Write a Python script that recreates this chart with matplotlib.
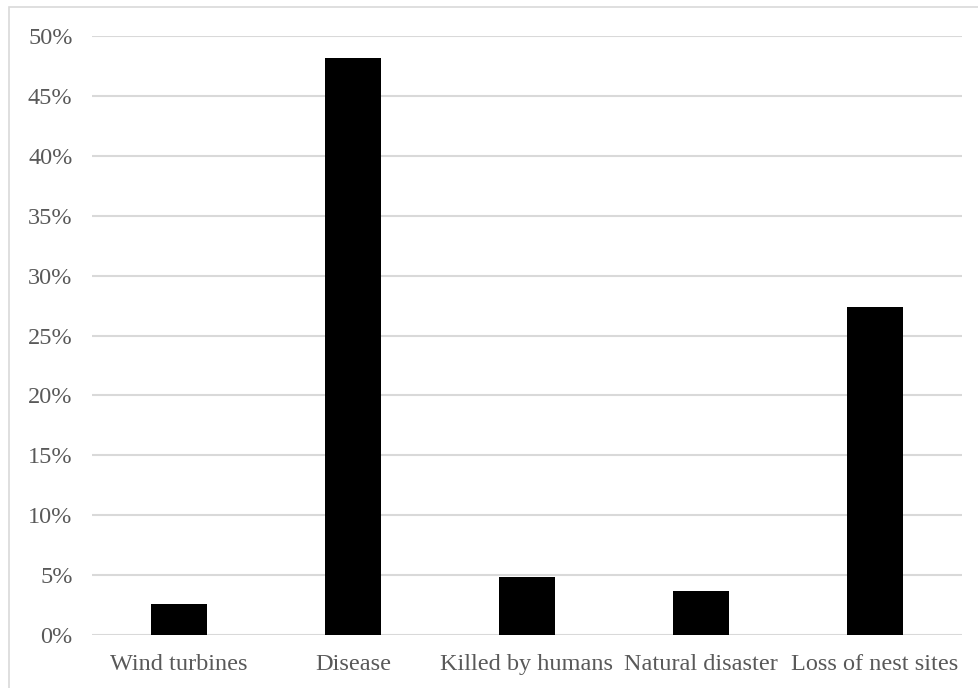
import matplotlib
matplotlib.use("Agg")
import matplotlib.pyplot as plt
from matplotlib.patches import Rectangle
from matplotlib.ticker import PercentFormatter

categories = ["Wind turbines", "Disease", "Killed by humans", "Natural disaster", "Loss of nest sites"]
values = [0.026, 0.482, 0.048, 0.037, 0.274]
yticks = [0, 0.05, 0.10, 0.15, 0.20, 0.25, 0.30, 0.35, 0.40, 0.45, 0.50]

W, H = 979, 688
fig = plt.figure(figsize=(W / 100, H / 100), dpi=100)
plt.rcParams['font.family'] = ['Liberation Serif', 'DejaVu Serif']

# outer border (chart frame)
fig.patches.append(Rectangle((9 / W, -0.05), 1.2, 1 - 7 / H + 0.05, transform=fig.transFigure,
                             fill=False, edgecolor='#d9d9d9', linewidth=1.2))

ax = fig.add_axes([92 / W, 1 - 635 / H, (962 - 92) / W, (635 - 36) / H])
x = list(range(len(categories)))
ax.bar(x, values, width=0.32, color='black', zorder=3)
ax.set_xlim(-0.5, len(categories) - 0.5)
ax.set_ylim(0, 0.5)
ax.set_yticks(yticks)
ax.yaxis.set_major_formatter(PercentFormatter(1.0, decimals=0))
ax.set_xticks(x)
ax.set_xticklabels(categories)
ax.grid(axis='y', color='#d9d9d9', linewidth=1.5, zorder=0)
for s in ax.spines.values():
    s.set_visible(False)
ax.tick_params(axis='both', length=0, labelsize=17.5, colors='#595959')
ax.tick_params(axis='y', pad=14)
ax.tick_params(axis='x', pad=14)

fig.savefig("out.png", dpi=100)
